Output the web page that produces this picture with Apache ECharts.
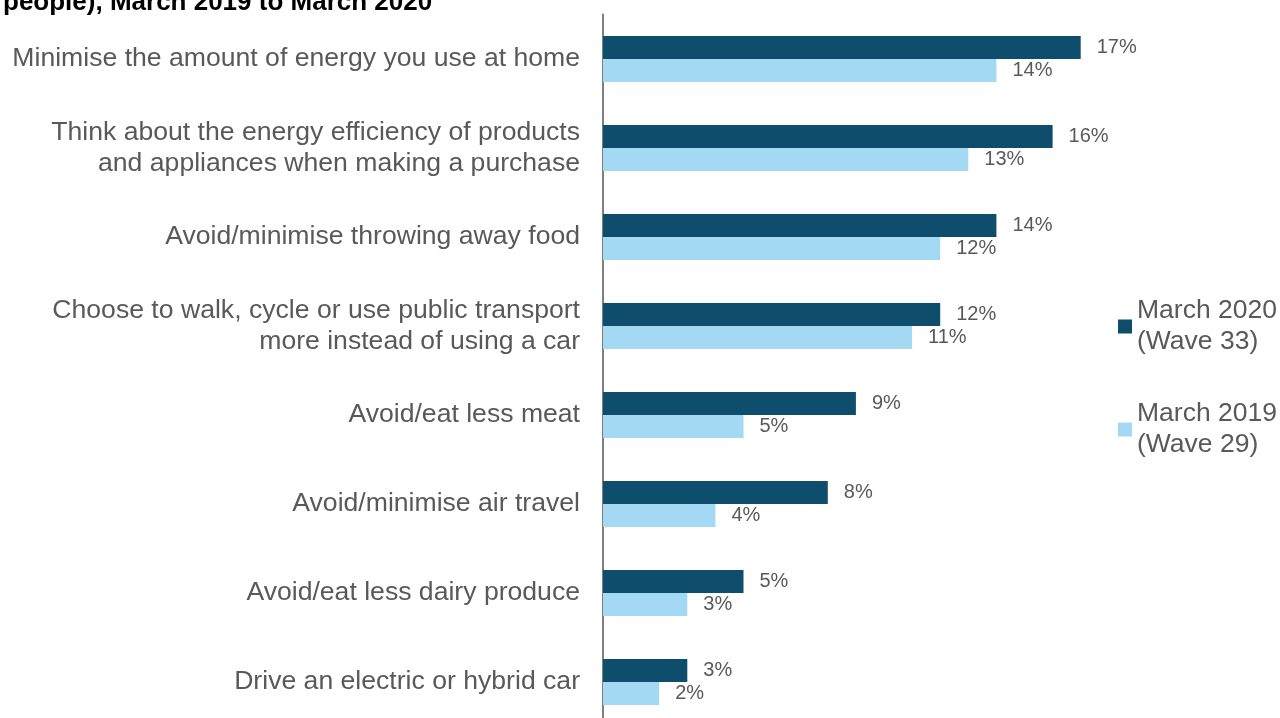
<!DOCTYPE html>
<html>
<head>
<meta charset="utf-8">
<script src="https://cdn.jsdelivr.net/npm/echarts@6/dist/echarts.min.js"></script>
<style>
  html, body { margin: 0; padding: 0; background: #ffffff; }
  #chart { width: 1280px; height: 718px; }
</style>
</head>
<body>
<div id="chart"></div>
<script>
// Pro-environmental actions people say they do, share of respondents
const categories = [
  'Minimise the amount of energy you use at home',
  'Think about the energy efficiency of products\nand appliances when making a purchase',
  'Avoid/minimise throwing away food',
  'Choose to walk, cycle or use public transport\nmore instead of using a car',
  'Avoid/eat less meat',
  'Avoid/minimise air travel',
  'Avoid/eat less dairy produce',
  'Drive an electric or hybrid car'
];
const wave33Name = 'March 2020\n(Wave 33)';
const wave29Name = 'March 2019\n(Wave 29)';
const wave33Values = [17, 16, 14, 12, 9, 8, 5, 3];
const wave29Values = [14, 13, 12, 11, 5, 4, 3, 2];
const titleText = 'people), March 2019 to March 2020';

const textGrey = '#595959';
const fontFamily = 'Liberation Sans, Arial, sans-serif';

const chart = echarts.init(document.getElementById('chart'), null, { renderer: 'canvas' });

const labelStyle = {
  show: true,
  position: 'right',
  distance: 16,
  formatter: p => p.value + '%',
  color: textGrey,
  fontSize: 20,
  fontFamily: fontFamily
};

chart.setOption({
  animation: false,
  backgroundColor: '#ffffff',
  title: {
    text: titleText,
    left: 3,
    top: -10,
    padding: 0,
    textStyle: { fontSize: 26, fontWeight: 'bold', color: '#000000', fontFamily: fontFamily }
  },
  legend: {
    orient: 'vertical',
    left: 1118,
    top: 280,
    padding: 0,
    itemGap: 10,
    itemWidth: 14,
    itemHeight: 14,
    icon: 'rect',
    selectedMode: false,
    textStyle: {
      color: textGrey,
      fontSize: 26.5,
      lineHeight: 31,
      fontFamily: fontFamily,
      padding: [31, 0, 0, 0]
    },
    data: [wave33Name, wave29Name]
  },
  grid: {
    left: 603,
    width: 562,
    top: 14.5,
    height: 712,
    containLabel: false,
    outerBoundsMode: 'none'
  },
  xAxis: {
    type: 'value',
    min: 0,
    max: 20,
    show: false
  },
  yAxis: {
    type: 'category',
    data: categories,
    inverse: true,
    axisLine: { show: true, lineStyle: { color: '#7f7f7f', width: 2 } },
    axisTick: { show: false },
    axisLabel: {
      color: textGrey,
      fontSize: 26.6,
      lineHeight: 31,
      margin: 23,
      align: 'right',
      fontFamily: fontFamily
    }
  },
  series: [
    {
      name: wave33Name,
      type: 'bar',
      data: wave33Values,
      barWidth: 23,
      barGap: '0%',
      itemStyle: { color: '#0e4d6b' },
      label: labelStyle
    },
    {
      name: wave29Name,
      type: 'bar',
      data: wave29Values,
      barWidth: 23,
      barGap: '0%',
      itemStyle: { color: '#a3d9f3' },
      label: labelStyle
    }
  ]
});
</script>
</body>
</html>
